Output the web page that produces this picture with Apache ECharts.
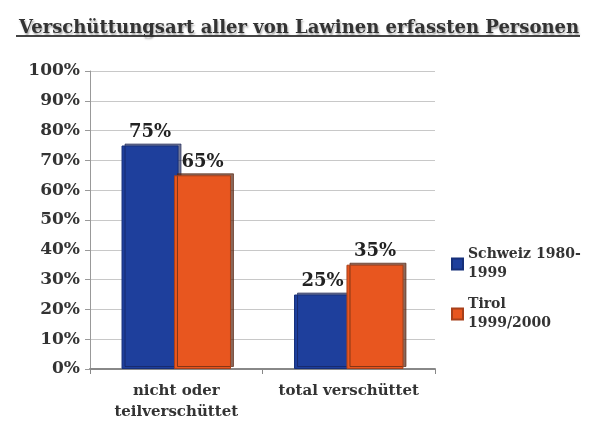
<!DOCTYPE html>
<html><head><meta charset="utf-8">
<script src="https://cdn.jsdelivr.net/npm/echarts@6/dist/echarts.min.js"></script>
<style>html,body{margin:0;padding:0;background:#fff}#c{width:598px;height:425px}</style>
</head><body><div id="c"></div>
<script>
const categories = ['nicht oder\nteilverschüttet', 'total verschüttet'];
const schweiz = [75, 25];
const tirol = [65, 35];
const seriesNames = ['Schweiz 1980-1999', 'Tirol 1999/2000'];
const legendLabels = {'Schweiz 1980-1999': 'Schweiz 1980-\n1999', 'Tirol 1999/2000': 'Tirol\n1999/2000'};
const title = 'Verschüttungsart aller von Lawinen erfassten Personen';

const font = '"DejaVu Serif", "Liberation Serif", serif';
const chart = echarts.init(document.getElementById('c'));
const labelStyle = {show: true, position: 'top', formatter: '{c}%', fontFamily: font, fontWeight: 'bold', fontSize: 18, color: '#222', distance: 4};
chart.setOption({
  backgroundColor: '#fff',
  title: {text: title, left: 'center', top: 14, textStyle: {fontFamily: font, fontWeight: 'bold', fontSize: 18, color: '#333', textShadowColor: 'rgba(0,0,0,0.35)', textShadowBlur: 2, textShadowOffsetX: 1, textShadowOffsetY: 2}},
  graphic: [{type: 'line', shape: {x1: 16, y1: 36, x2: 580, y2: 36}, style: {stroke: '#444', lineWidth: 2}}],
  grid: {left: 90, right: 163, top: 71, bottom: 56},
  legend: {
    orient: 'vertical', left: 446, top: 240, itemWidth: 11, itemHeight: 11, itemGap: 12, icon: 'rect',
    data: seriesNames,
    formatter: n => legendLabels[n],
    textStyle: {fontFamily: font, fontWeight: 'bold', fontSize: 14, color: '#333', lineHeight: 19}
  },
  xAxis: {
    type: 'category', data: categories,
    axisLine: {lineStyle: {color: '#888', width: 2}},
    axisTick: {show: true, lineStyle: {color: '#888'}},
    axisLabel: {interval: 0, hideOverlap: false, fontFamily: font, fontWeight: 'bold', fontSize: 15, color: '#333', margin: 12, lineHeight: 21}
  },
  yAxis: {
    type: 'value', min: 0, max: 100, interval: 10,
    axisLine: {show: true, lineStyle: {color: '#999'}},
    axisTick: {show: true, lineStyle: {color: '#999'}},
    splitLine: {lineStyle: {color: '#c8c8c8'}},
    axisLabel: {formatter: '{value}%', fontFamily: font, fontWeight: 'bold', fontSize: 17, color: '#333', margin: 10}
  },
  series: [
    {name: seriesNames[0], type: 'bar', data: schweiz, barWidth: 57, barGap: '-8%',
     itemStyle: {color: '#1e3f9c', borderColor: '#16307a', borderWidth: 1, shadowColor: 'rgba(20,30,80,0.6)', shadowOffsetX: 3, shadowOffsetY: -2},
     label: labelStyle},
    {name: seriesNames[1], type: 'bar', data: tirol, barWidth: 57,
     itemStyle: {color: '#e8561f', borderColor: '#a8401a', borderWidth: 1, shadowColor: 'rgba(90,40,20,0.7)', shadowOffsetX: 3, shadowOffsetY: -2},
     label: labelStyle}
  ]
});
</script></body></html>
